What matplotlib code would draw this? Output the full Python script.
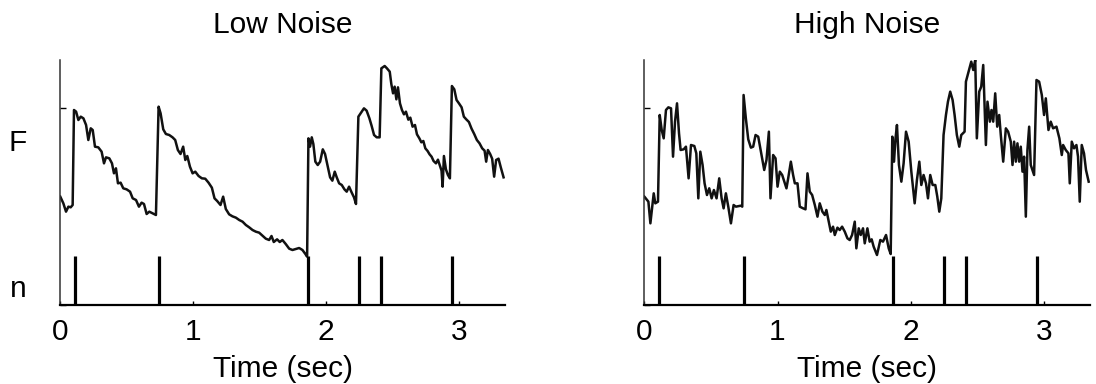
import matplotlib
matplotlib.use("Agg")
import matplotlib.pyplot as plt

# ---------------- data ----------------
panel_titles = ["Low Noise", "High Noise"]
xtick_values = [0, 1, 2, 3]
xtick_labels = ["0", "1", "2", "3"]
x_label = "Time (sec)"
trace_label = "F"
spike_label = "n"

# spike times (sec) and spike-marker height (same units as fluorescence axis)
spike_times = [0.11, 0.745, 1.866, 2.248, 2.412, 2.948]
spike_height = 148

low_time = [0.000, 0.023, 0.043, 0.061, 0.078, 0.093, 0.103, 0.119, 0.136, 0.154, 0.174, 0.194,
            0.211, 0.229, 0.244, 0.261, 0.286, 0.311, 0.329, 0.344, 0.369, 0.389, 0.404, 0.419,
            0.434, 0.454, 0.474, 0.499, 0.525, 0.545, 0.570, 0.592, 0.612, 0.630, 0.650, 0.670,
            0.695, 0.720, 0.740, 0.755, 0.775, 0.795, 0.820, 0.845, 0.865, 0.885, 0.905, 0.925,
            0.941, 0.956, 0.976, 0.996, 1.016, 1.041, 1.066, 1.091, 1.116, 1.141, 1.161, 1.181,
            1.206, 1.226, 1.246, 1.271, 1.296, 1.322, 1.347, 1.372, 1.397, 1.422, 1.447, 1.472,
            1.497, 1.522, 1.547, 1.572, 1.590, 1.607, 1.632, 1.652, 1.672, 1.697, 1.723, 1.748,
            1.773, 1.798, 1.823, 1.845, 1.858, 1.868, 1.880, 1.893, 1.905, 1.920, 1.938, 1.956,
            1.976, 1.993, 2.011, 2.031, 2.048, 2.066, 2.081, 2.099, 2.119, 2.139, 2.156, 2.174,
            2.194, 2.211, 2.226, 2.244, 2.261, 2.286, 2.306, 2.327, 2.344, 2.362, 2.382, 2.404,
            2.417, 2.442, 2.459, 2.480, 2.492, 2.505, 2.517, 2.530, 2.542, 2.557, 2.572, 2.587,
            2.602, 2.620, 2.635, 2.652, 2.670, 2.685, 2.703, 2.718, 2.733, 2.748, 2.765, 2.780,
            2.795, 2.810, 2.828, 2.843, 2.858, 2.870, 2.878, 2.888, 2.903, 2.918, 2.933, 2.948,
            2.966, 2.983, 3.001, 3.021, 3.038, 3.056, 3.076, 3.096, 3.116, 3.136, 3.156, 3.176,
            3.194, 3.206, 3.219, 3.236, 3.251, 3.266, 3.281, 3.299, 3.316, 3.337]
low_fluor = [325, 305, 280, 295, 293, 300, 585, 580, 555, 565, 560, 540,
             495, 530, 525, 475, 473, 460, 425, 443, 440, 425, 395, 410,
             365, 367, 350, 347, 340, 320, 315, 295, 307, 303, 273, 280,
             275, 270, 595, 575, 527, 513, 510, 503, 495, 465, 453, 475,
             435, 447, 415, 395, 400, 387, 380, 379, 367, 352, 320, 312,
             300, 325, 288, 272, 266, 262, 255, 250, 240, 233, 225, 220,
             217, 208, 199, 195, 207, 189, 197, 189, 195, 183, 169, 165,
             168, 171, 165, 153, 145, 500, 475, 503, 483, 430, 420, 430,
             467, 453, 420, 383, 373, 400, 383, 365, 360, 347, 340, 355,
             337, 323, 303, 565, 575, 590, 583, 560, 537, 510, 503, 503,
             710, 717, 710, 700, 663, 635, 655, 617, 653, 605, 585, 572,
             580, 556, 562, 535, 540, 512, 500, 488, 492, 470, 462, 452,
             445, 432, 425, 436, 418, 403, 355, 447, 407, 390, 380, 657,
             647, 615, 605, 593, 565, 557, 549, 529, 513, 495, 485, 470,
             463, 430, 465, 453, 439, 385, 435, 439, 413, 383]

high_time = [0.000, 0.030, 0.045, 0.070, 0.082, 0.102, 0.115, 0.130, 0.145, 0.162, 0.180, 0.200,
             0.215, 0.230, 0.245, 0.260, 0.272, 0.295, 0.312, 0.332, 0.350, 0.375, 0.390, 0.405,
             0.420, 0.437, 0.452, 0.470, 0.487, 0.505, 0.522, 0.542, 0.562, 0.580, 0.595, 0.612,
             0.630, 0.650, 0.670, 0.687, 0.725, 0.735, 0.745, 0.762, 0.780, 0.800, 0.817, 0.835,
             0.855, 0.880, 0.900, 0.917, 0.935, 0.947, 0.967, 0.985, 1.000, 1.017, 1.035, 1.055,
             1.067, 1.080, 1.100, 1.117, 1.130, 1.150, 1.167, 1.192, 1.210, 1.225, 1.242, 1.260,
             1.280, 1.300, 1.317, 1.337, 1.355, 1.367, 1.385, 1.400, 1.417, 1.430, 1.450, 1.467,
             1.485, 1.505, 1.525, 1.542, 1.560, 1.580, 1.592, 1.610, 1.625, 1.642, 1.655, 1.675,
             1.692, 1.707, 1.722, 1.747, 1.772, 1.792, 1.815, 1.835, 1.850, 1.862, 1.875, 1.885,
             1.897, 1.912, 1.930, 1.947, 1.965, 1.985, 2.005, 2.030, 2.047, 2.065, 2.080, 2.097,
             2.115, 2.130, 2.147, 2.165, 2.185, 2.200, 2.215, 2.230, 2.247, 2.265, 2.280, 2.297,
             2.315, 2.330, 2.347, 2.365, 2.380, 2.405, 2.415, 2.435, 2.455, 2.470, 2.485, 2.497,
             2.515, 2.530, 2.545, 2.565, 2.577, 2.595, 2.607, 2.620, 2.635, 2.650, 2.665, 2.677,
             2.695, 2.715, 2.732, 2.752, 2.765, 2.777, 2.790, 2.802, 2.815, 2.827, 2.840, 2.852,
             2.865, 2.877, 2.890, 2.902, 2.927, 2.945, 2.965, 2.985, 3.002, 3.015, 3.035, 3.052,
             3.070, 3.095, 3.117, 3.135, 3.145, 3.165, 3.185, 3.195, 3.210, 3.227, 3.245, 3.257,
             3.270, 3.285, 3.302, 3.317, 3.337]
high_fluor = [325, 310, 245, 335, 305, 310, 570, 525, 500, 585, 593, 590,
              445, 550, 605, 515, 465, 467, 475, 380, 480, 477, 455, 320,
              460, 420, 365, 330, 350, 320, 345, 320, 380, 320, 290, 335,
              295, 245, 300, 295, 298, 295, 630, 560, 497, 472, 475, 510,
              505, 450, 405, 435, 520, 320, 450, 440, 355, 400, 390, 365,
              350, 380, 430, 390, 365, 365, 295, 290, 287, 395, 340, 330,
              300, 265, 305, 280, 270, 285, 250, 220, 235, 210, 232, 225,
              235, 220, 200, 195, 210, 250, 170, 230, 210, 230, 185, 230,
              190, 197, 175, 150, 195, 190, 210, 170, 153, 505, 430, 495,
              540, 420, 370, 425, 520, 490, 400, 305, 375, 430, 360, 390,
              365, 320, 390, 360, 360, 325, 280, 320, 510, 570, 610, 640,
              615, 570, 510, 475, 510, 520, 670, 700, 730, 705, 735, 500,
              640, 655, 720, 480, 610, 550, 585, 550, 635, 535, 570, 510,
              430, 530, 520, 490, 420, 490, 430, 485, 430, 475, 400, 445,
              265, 465, 535, 420, 390, 675, 670, 630, 570, 620, 525, 550,
              530, 535, 500, 450, 480, 465, 455, 365, 490, 470, 480, 445,
              310, 480, 455, 405, 370]

traces = [(low_time, low_fluor), (high_time, high_fluor)]

# ---------------- figure ----------------
plt.rcParams["font.family"] = ["Liberation Sans", "DejaVu Sans"]
FS = 21.5
W, H = 1096, 384
fig = plt.figure(figsize=(W / 100, H / 100), dpi=100)

ax_boxes = [
    (60.3 / W, (H - 305) / H, 445 / W, 245 / H),
    (644.4 / W, (H - 305) / H, 446 / W, 245 / H),
]

for i, (box, (tt, ff)) in enumerate(zip(ax_boxes, traces)):
    ax = fig.add_axes(box)
    ax.plot(tt, ff, color="#111111", lw=1.8, solid_joinstyle="round")
    ax.vlines(spike_times, 0, spike_height, color="black", lw=2.3)
    ax.set_xlim(0, 3.35)
    ax.set_ylim(0, 735)
    for s in ("top", "right"):
        ax.spines[s].set_visible(False)
    ax.spines["left"].set_linewidth(1.1)
    ax.spines["left"].set_color("#333333")
    ax.spines["bottom"].set_linewidth(1.6)
    ax.set_xticks(xtick_values)
    ax.set_xticklabels(xtick_labels, fontsize=FS)
    ax.set_yticks([0, 590])
    ax.set_yticklabels([])
    ax.tick_params(axis="x", direction="in", length=3, width=1.0, pad=9)
    ax.tick_params(axis="y", direction="in", length=4, width=1.0)
    ax.set_xlabel(x_label, fontsize=FS, labelpad=7)
    ax.set_title(panel_titles[i], fontsize=FS, pad=19.5)

fig.text(18 / W, 1 - 151 / H, trace_label, fontsize=FS, ha="center", va="baseline")
fig.text(18 / W, 1 - 297 / H, spike_label, fontsize=FS, ha="center", va="baseline")

fig.savefig("out.png", dpi=100)
